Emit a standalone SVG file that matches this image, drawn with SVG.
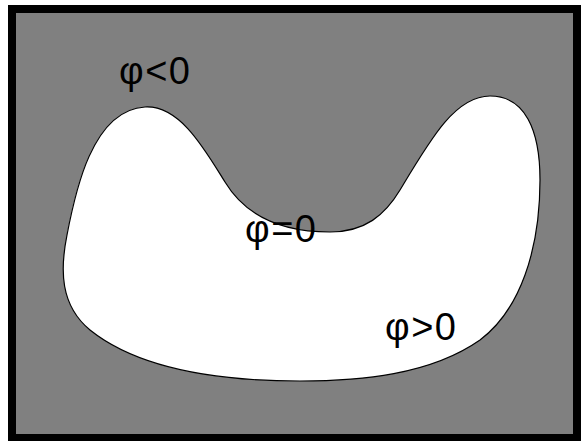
<svg xmlns="http://www.w3.org/2000/svg" width="581" height="441" viewBox="0 0 581 441">
<style>
.lbl{font-family:"Liberation Sans",Arial,sans-serif;font-size:38px;letter-spacing:1.5px;fill:#000}
</style>
<rect x="0" y="0" width="581" height="441" fill="#fff"/>
<rect id="frame" x="12" y="9" width="565" height="429" fill="#808080" stroke="#000" stroke-width="8"/>
<g id="region">
<path d="M 145,107 C 180,105 205,150 225,182 C 245,215 280,232 330,232 C 365,232 385,215 400,190 C 430,140 455,96 490,96 C 525,96 540,130 540,180 C 540,250 520,310 480,340 C 430,375 360,381 300,381 C 220,381 140,370 90,330 C 60,305 60,270 67,235 C 75,193 92,110 145,107 Z" fill="#fff" stroke="#000" stroke-width="1.2"/>
</g>
<g id="labels">
<text class="lbl" x="119" y="84">φ&lt;0</text>
<text class="lbl" x="245" y="242">φ=0</text>
<text class="lbl" x="385" y="340">φ&gt;0</text>
</g>
</svg>
